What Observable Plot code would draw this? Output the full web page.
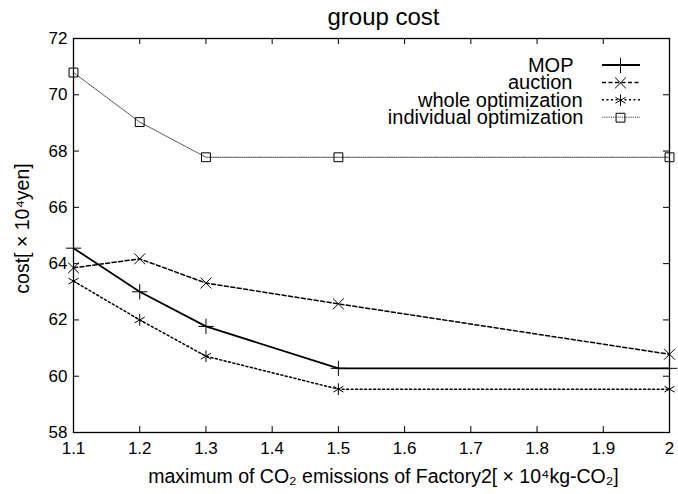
<!DOCTYPE html>
<html><head><meta charset="utf-8">
<script src="https://cdn.jsdelivr.net/npm/d3@7"></script>
<script src="https://cdn.jsdelivr.net/npm/@observablehq/plot@0.6"></script>
<style>
body{margin:0;background:#fff}
svg{font-family:"Liberation Sans",Arial,Helvetica,sans-serif}
</style>
</head><body><div id="chart"></div>
<script>
const xValues = [1.1, 1.2, 1.3, 1.5, 2.0];
const mopCost = [64.55, 63.0, 61.77, 60.28, 60.28];
const auctionCost = [63.85, 64.17, 63.31, 62.57, 60.78];
const wholeCost = [63.38, 62.0, 60.71, 59.54, 59.54];
const individualCost = [70.79, 69.03, 67.78, 67.78, 67.78];
const seriesNames = ["MOP", "auction", "whole optimization", "individual optimization"];
const xTicks = [1.1, 1.2, 1.3, 1.4, 1.5, 1.6, 1.7, 1.8, 1.9, 2.0];
const yTicks = [58, 60, 62, 64, 66, 68, 70, 72];
const titleText = "group cost";
const xLabel = "maximum of CO₂ emissions of Factory2[ × 10⁴kg-CO₂]";
const yLabel = "cost[ × 10⁴yen]";

const seriesValues = [mopCost, auctionCost, wholeCost, individualCost];
const styles = [
  {symbol: "plus", dash: null, width: 1.8, color: "#000", r: 5},
  {symbol: "times", dash: "4,2.5", width: 1.5, color: "#000", r: 5},
  {symbol: "asterisk", dash: "2,2.5", width: 1.5, color: "#000", r: 5.5},
  {symbol: "square", dash: "1.2,1", width: 1, color: "#444", r: 5}
];
const rows = [];
seriesNames.forEach((name, i) => xValues.forEach((x, j) => rows.push({series: name, x, cost: seriesValues[i][j]})));

const W = 678, H = 494;
const mL = 73, mR = 9, mT = 38, mB = 62;
const pw = W - mL - mR, ph = H - mT - mB;
const fmt = d => String(+d.toFixed(1));
const legendDx = [96, 97, 87, 86];
const legendDy = i => 27 + i * 17.4;

const marks = [];
seriesNames.forEach((name, i) => {
  const s = styles[i];
  const data = rows.filter(d => d.series === name);
  marks.push(Plot.line(data, {x: "x", y: "cost", stroke: s.color, strokeWidth: s.width, strokeDasharray: s.dash}));
  marks.push(Plot.dot(data, {x: "x", y: "cost", symbol: s.symbol, r: s.r, stroke: "#000", fill: "none", strokeWidth: 1}));
  marks.push(Plot.text([name], {
    frameAnchor: "top-right", textAnchor: "end", lineAnchor: "middle",
    dx: -legendDx[i], dy: legendDy(i), fontSize: 20, fill: "#000"
  }));
  marks.push(Plot.dot([name], {
    frameAnchor: "top-right", dx: -49, dy: legendDy(i), symbol: s.symbol, r: s.r, stroke: "#000", fill: "none", strokeWidth: 1
  }));
});

const chart = Plot.plot({
  width: W, height: H,
  marginLeft: mL, marginRight: mR, marginTop: mT, marginBottom: mB,
  style: {fontFamily: "Liberation Sans, Arial, sans-serif", background: "#fff"},
  x: {domain: [1.1, 2.0]},
  y: {domain: [58, 72]},
  marks: [
    Plot.tickX(xTicks, {x: d => d, insetTop: ph - 6, stroke: "#000"}),
    Plot.tickX(xTicks, {x: d => d, insetBottom: ph - 6, stroke: "#000"}),
    Plot.tickY(yTicks, {y: d => d, insetRight: pw - 6, stroke: "#000"}),
    Plot.tickY(yTicks, {y: d => d, insetLeft: pw - 6, stroke: "#000"}),
    ...marks,
    Plot.frame({stroke: "#000", strokeWidth: 1.3}),
    Plot.axisX({ticks: xTicks, tickSize: 0, tickPadding: 9, tickFormat: fmt, fontSize: 17, label: null}),
    Plot.axisY({ticks: yTicks, tickSize: 0, tickPadding: 6, fontSize: 17, label: null}),
    Plot.text([titleText], {frameAnchor: "top", lineAnchor: "middle", dy: -21.5, dx: 12, fontSize: 24, fill: "#000"}),
    Plot.text([xLabel], {frameAnchor: "bottom", lineAnchor: "middle", dy: 44, dx: 12, fontSize: 19.5, fill: "#000"}),
    Plot.text([yLabel], {frameAnchor: "left", textAnchor: "middle", lineAnchor: "middle", rotate: -90, dx: -51, dy: -7, fontSize: 19.5, fill: "#000"})
  ]
});

// legend line samples, placed relative to the plot frame
const svg = d3.select(chart);
const g = svg.insert("g", ":first-child");
seriesNames.forEach((name, i) => {
  const s = styles[i];
  const y = mT + legendDy(i);
  const x0 = W - mR - 67, x1 = W - mR - 29;
  g.append("line").attr("x1", x0).attr("x2", x1).attr("y1", y).attr("y2", y)
    .attr("stroke", s.color).attr("stroke-width", s.width).attr("stroke-dasharray", s.dash);
});
document.getElementById("chart").append(chart);
</script>
</body></html>
